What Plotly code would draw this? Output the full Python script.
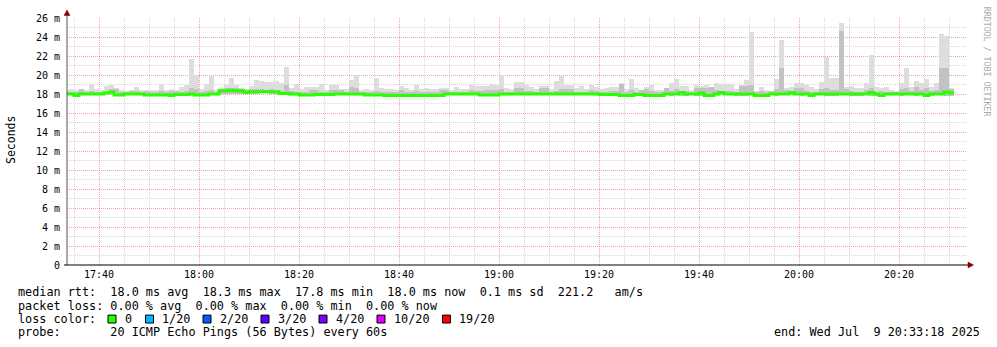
import plotly.graph_objects as go
import pandas as pd
import numpy as np

# ---------------- data (ms) ----------------
sample_start = "2025-07-09 17:33:00"
n_samples = 178

median_ms = [
    18.0,18.0,17.85,18.0,18.0,18.0,18.0,18.0,18.1,18.2,
    17.9,17.9,18.0,18.0,18.0,18.0,17.9,17.9,17.9,17.9,
    17.9,17.85,17.95,17.95,17.95,18.0,17.9,17.9,17.9,18.0,
    18.0,18.35,18.35,18.4,18.35,18.35,18.15,18.25,18.25,18.25,
    18.25,18.25,18.25,18.05,18.05,18.0,18.0,17.9,17.9,17.9,
    17.95,17.95,17.95,17.95,18.0,18.0,18.0,18.0,18.0,18.0,
    17.9,17.9,17.9,17.9,17.85,17.85,17.85,17.85,17.85,17.85,
    17.85,17.85,17.85,17.85,17.85,17.85,18.0,18.0,18.0,18.0,
    18.0,18.0,18.0,17.9,17.9,17.9,17.9,18.0,18.0,18.0,
    18.0,18.0,18.0,18.0,18.0,18.0,18.0,18.0,18.0,18.0,
    18.0,18.0,18.0,18.0,18.0,18.0,18.0,17.95,17.95,17.95,
    17.95,17.85,17.85,17.85,17.95,17.95,17.85,17.85,17.85,17.85,
    18.0,18.0,18.0,18.15,18.0,18.0,18.0,18.1,17.85,17.85,
    18.0,18.15,18.0,18.0,18.0,18.0,18.0,18.0,17.85,17.85,
    17.85,18.0,18.0,18.0,18.0,18.15,18.0,18.0,18.0,17.85,
    18.0,18.0,18.0,18.0,18.0,18.0,18.0,18.0,18.0,18.0,
    18.0,18.15,18.0,17.85,18.0,18.0,18.0,18.0,18.0,18.0,
    18.0,18.0,17.85,18.0,18.0,18.0,18.2,18.1,
]

smoke_min_ms = [
    17.9,17.85,17.75,17.85,17.9,17.85,17.85,17.9,17.95,18.0,
    17.8,17.8,17.9,17.85,17.9,17.85,17.8,17.8,17.8,17.8,
    17.8,17.75,17.75,17.85,17.85,17.9,17.8,17.8,17.8,17.9,
    17.9,18.0,18.05,18.05,18.0,18.0,17.95,18.05,18.05,18.1,
    18.1,18.05,17.95,17.9,17.95,17.9,17.9,17.8,17.8,17.8,
    17.85,17.8,17.85,17.85,17.9,17.85,17.85,17.9,17.9,17.85,
    17.8,17.8,17.75,17.8,17.75,17.78,17.75,17.78,17.75,17.75,
    17.78,17.75,17.78,17.75,17.75,17.78,17.85,17.9,17.85,17.9,
    17.85,17.9,17.9,17.8,17.8,17.75,17.8,17.85,17.9,17.9,
    17.85,17.85,17.9,17.85,17.85,17.9,17.9,17.85,17.9,17.85,
    17.85,17.9,17.85,17.9,17.85,17.85,17.9,17.8,17.8,17.85,
    17.85,17.75,17.75,17.75,17.8,17.85,17.75,17.75,17.75,17.75,
    17.85,17.8,17.85,17.75,17.75,17.85,17.8,17.75,17.75,17.75,
    17.85,17.9,17.85,17.85,17.75,17.75,17.8,17.85,17.75,17.75,
    17.75,17.85,17.8,17.85,17.85,17.9,17.85,17.8,17.85,17.75,
    17.85,17.85,17.75,17.75,17.8,17.85,17.85,17.75,17.75,17.8,
    17.85,17.8,17.75,17.75,17.85,17.85,17.85,17.8,17.85,17.85,
    17.8,17.85,17.75,17.8,17.85,17.85,17.8,17.8,
]

smoke_max_ms = [
    18.4,18.5,18.4,18.57,18.4,19.07,18.5,18.4,18.83,18.9,
    18.67,18.4,18.35,18.4,18.77,18.4,18.45,18.4,18.45,19.07,
    18.45,18.57,18.4,18.73,18.9,21.73,20.0,18.5,19.1,19.93,
    18.4,18.67,18.9,19.73,18.9,18.67,
    18.57,18.83,19.43,19.33,19.23,19.23,19.33,19.17,20.83,18.67,
    19.1,18.57,18.73,18.73,18.73,19.1,18.45,18.93,18.93,18.57,
    18.57,19.43,20.0,18.4,18.57,18.4,19.67,18.67,18.57,18.57,
    18.4,18.83,18.67,18.4,18.93,18.57,
    18.6,18.57,18.57,18.67,18.67,18.4,18.77,18.5,18.57,18.93,
    18.83,18.83,18.83,19.1,19.0,20.0,18.67,18.5,19.27,19.27,
    18.93,18.73,18.57,18.83,18.83,18.57,19.33,19.93,19.0,19.0,
    18.67,18.83,18.5,18.93,18.77,18.5,
    18.62,18.79,18.79,19.14,18.52,19.62,18.62,18.38,18.72,18.9,
    18.45,18.38,18.62,19.14,19.62,18.86,18.86,18.45,18.9,18.86,
    19.0,18.79,19.14,19.03,19.03,19.03,18.52,18.9,19.48,24.48,
    18.28,18.69,18.38,18.28,19.62,23.72,
    18.62,18.72,19.21,19.21,18.97,18.72,18.52,19.31,21.9,19.66,
    19.72,25.52,18.72,18.86,18.62,18.62,19.21,22.07,18.79,18.62,
    18.79,18.38,18.28,19.14,20.76,18.79,19.41,19.21,19.55,18.79,
    19.14,24.31,24.07,18.62,
]

smoke_inner_ms = [
    18.2,18.25,18.2,18.5,18.2,18.3,18.2,18.25,18.3,18.5,
    18.5,18.2,18.2,18.35,18.35,18.2,18.3,18.2,18.25,18.3,
    18.2,18.35,18.35,18.2,18.3,18.6,18.5,18.2,18.3,18.4,
    18.2,18.55,18.6,18.65,18.6,18.55,
    18.4,18.5,18.5,18.5,18.45,18.5,18.45,18.3,19.0,18.3,
    18.2,18.2,18.2,18.4,18.4,18.2,18.2,18.4,18.4,18.4,
    18.2,18.7,18.6,18.2,18.2,18.2,18.3,18.2,18.2,18.2,
    18.2,18.4,18.2,18.2,18.3,18.2,
    18.2,18.2,18.2,18.4,18.4,18.2,18.2,18.2,18.2,18.4,
    18.3,18.3,18.4,18.4,18.4,18.5,18.2,18.2,18.6,18.6,
    18.3,18.3,18.2,18.6,18.6,18.2,18.3,18.5,18.5,18.5,
    18.2,18.2,18.2,18.4,18.3,18.2,
    18.2,18.3,18.3,19.1,18.2,18.4,18.2,18.5,18.5,18.3,
    18.2,18.2,18.7,18.3,18.5,18.3,18.3,18.2,18.6,18.6,
    18.6,18.7,18.4,18.3,18.3,18.3,18.2,18.8,18.8,19.0,
    18.2,18.3,18.2,18.3,18.5,20.7,
    18.4,18.3,18.6,18.6,18.3,18.2,18.2,18.5,18.6,18.4,
    18.4,24.6,18.5,18.3,18.2,18.2,18.4,18.6,18.2,18.3,
    18.2,18.2,18.2,18.5,18.6,18.3,18.7,18.4,18.6,18.3,
    18.4,20.7,20.7,18.5,
]

y_tick_vals = [0, 2, 4, 6, 8, 10, 12, 14, 16, 18, 20, 22, 24, 26]
y_tick_text = ["0", "2 m", "4 m", "6 m", "8 m", "10 m", "12 m", "14 m",
               "16 m", "18 m", "20 m", "22 m", "24 m", "26 m"]
y_minor_vals = [1, 3, 5, 7, 9, 11, 13, 15, 17, 19, 21, 23, 25]

loss_labels = ["0", "1/20", "2/20", "3/20", "4/20", "10/20", "19/20"]
loss_colors = ["#26ff00", "#00b8ff", "#0059ff", "#5e00ff", "#7e00ff", "#dd00ff", "#ff0000"]

stat_lines = [
    "median rtt:  18.0 ms avg  18.3 ms max  17.8 ms min  18.0 ms now  0.1 ms sd  221.2   am/s",
    "packet loss: 0.00 % avg  0.00 % max  0.00 % min  0.00 % now",
    "loss color:",
    "probe:       20 ICMP Echo Pings (56 Bytes) every 60s",
]
end_text = "end: Wed Jul  9 20:33:18 2025"

# ---------------- geometry ----------------
W, H = 997, 347
L, R, T, B = 67, 30, 16, 82
PW, PH = W - L - R, H - T - B
MONO = "DejaVu Sans Mono"


def px(x):
    return (x - L) / PW


def py(y):
    return (T + PH - y) / PH


def nb(s):
    return s.replace(" ", "\u00a0")


times = pd.date_range(sample_start, periods=n_samples, freq="min")
centers = times + pd.Timedelta(seconds=30)
lo = np.array(smoke_min_ms)
hi = np.array(smoke_max_ms)
inner = np.minimum(np.array(smoke_inner_ms), hi)
med = np.array(median_ms)

# minor vertical grid every 5 minutes, skipping the 20-minute majors
grid5 = pd.date_range("2025-07-09 17:35", "2025-07-09 20:30", freq="5min")
x_minor_vals = [t for t in grid5 if t.minute % 20 != 0]

fig = go.Figure()
fig.add_trace(go.Bar(x=centers, y=hi - lo, base=lo, width=60000,
                     marker=dict(color="#dddddd", line=dict(width=0)),
                     hoverinfo="skip"))
fig.add_trace(go.Bar(x=centers, y=inner - lo, base=lo, width=60000,
                     marker=dict(color="#c2c2c2", line=dict(width=0)),
                     hoverinfo="skip"))
line_x = list(times) + [times[-1] + pd.Timedelta(minutes=1)]
line_y = list(med) + [med[-1]]
fig.add_trace(go.Scatter(x=line_x, y=line_y, mode="lines",
                         line=dict(color="#26ff00", width=3, shape="hv"),
                         hoverinfo="skip"))

major_grid = "rgba(230,50,50,0.45)"
minor_grid = "rgba(160,160,160,0.42)"

fig.update_layout(
    width=W, height=H,
    margin=dict(l=L, r=R, t=T, b=B, pad=0),
    paper_bgcolor="white", plot_bgcolor="white",
    showlegend=False, barmode="overlay", bargap=0,
    font=dict(family=MONO, size=10, color="black"),
    xaxis=dict(
        type="date",
        range=["2025-07-09 17:33:36", "2025-07-09 20:33:36"],
        tick0="2025-07-09 17:40:00", dtick=1200000, tickformat="%H:%M",
        showgrid=True, gridcolor=major_grid, griddash="1px,1px", gridwidth=1,
        minor=dict(tickmode="array", tickvals=x_minor_vals, showgrid=True,
                   gridcolor=minor_grid, griddash="1px,1px", gridwidth=1),
        showline=False, zeroline=False, ticks="", ticklabelstandoff=2,
        tickfont=dict(family=MONO, size=10, color="black"),
        fixedrange=True,
    ),
    yaxis=dict(
        range=[0, 26], tickvals=y_tick_vals, ticktext=y_tick_text,
        showgrid=True, gridcolor=major_grid, griddash="1px,1px", gridwidth=1,
        minor=dict(tickmode="array", tickvals=y_minor_vals, showgrid=True,
                   gridcolor=minor_grid, griddash="1px,1px", gridwidth=1),
        showline=False, zeroline=False, ticks="outside", ticklen=4,
        tickcolor="rgba(0,0,0,0)",
        tickfont=dict(family=MONO, size=10, color="black"),
        fixedrange=True,
    ),
)

shapes = []
# axis lines
shapes.append(dict(type="line", xref="paper", yref="paper",
                   x0=px(67), x1=px(67), y0=py(265), y1=py(13),
                   line=dict(color="#555555", width=1)))
shapes.append(dict(type="line", xref="paper", yref="paper",
                   x0=px(64), x1=px(969), y0=py(265), y1=py(265),
                   line=dict(color="#000000", width=1)))
# arrows
shapes.append(dict(type="path", xref="paper", yref="paper",
                   path=f"M {px(67)},{py(8)} L {px(64)},{py(13.5)} L {px(70)},{py(13.5)} Z",
                   fillcolor="#8b0000", line=dict(color="#8b0000", width=0.5)))
shapes.append(dict(type="path", xref="paper", yref="paper",
                   path=f"M {px(973.5)},{py(265)} L {px(968)},{py(262)} L {px(968)},{py(268)} Z",
                   fillcolor="#8b0000", line=dict(color="#8b0000", width=0.5)))
# loss color boxes
box_x = [108, 145.5, 203, 261, 319, 377, 442.5]
text_x = [122.5, 159.5, 217.5, 275.5, 333.5, 391.5, 456.5]
for bx, c in zip(box_x, loss_colors):
    shapes.append(dict(type="rect", xref="paper", yref="paper",
                       x0=px(bx), x1=px(bx + 8), y0=py(323.5), y1=py(315.5),
                       fillcolor=c, line=dict(color="black", width=1)))
fig.update_layout(shapes=shapes)

ann = []
line_centers = [292, 306, 319.5, 333]
for s, yc in zip(stat_lines, line_centers):
    ann.append(dict(x=px(16), y=py(yc), xref="paper", yref="paper",
                    text=nb(s), showarrow=False, xanchor="left", yanchor="middle",
                    font=dict(family=MONO, size=11.8, color="black")))
for tx, lab in zip(text_x, loss_labels):
    ann.append(dict(x=px(tx), y=py(319.5), xref="paper", yref="paper",
                    text=nb(lab), showarrow=False, xanchor="left", yanchor="middle",
                    font=dict(family=MONO, size=11.8, color="black")))
ann.append(dict(x=px(981.5), y=py(333), xref="paper", yref="paper",
                text=nb(end_text), showarrow=False, xanchor="right", yanchor="middle",
                font=dict(family=MONO, size=11.8, color="black")))
ann.append(dict(x=px(11), y=py(139), xref="paper", yref="paper",
                text="Seconds", showarrow=False, textangle=-90,
                xanchor="center", yanchor="middle",
                font=dict(family=MONO, size=11.5, color="black")))
ann.append(dict(x=px(987), y=py(60), xref="paper", yref="paper",
                text=nb("RRDTOOL / TOBI OETIKER"), showarrow=False, textangle=90,
                xanchor="center", yanchor="middle",
                font=dict(family=MONO, size=8.3, color="#aaaaaa")))
fig.update_layout(annotations=ann)

fig.write_html("out.html")
